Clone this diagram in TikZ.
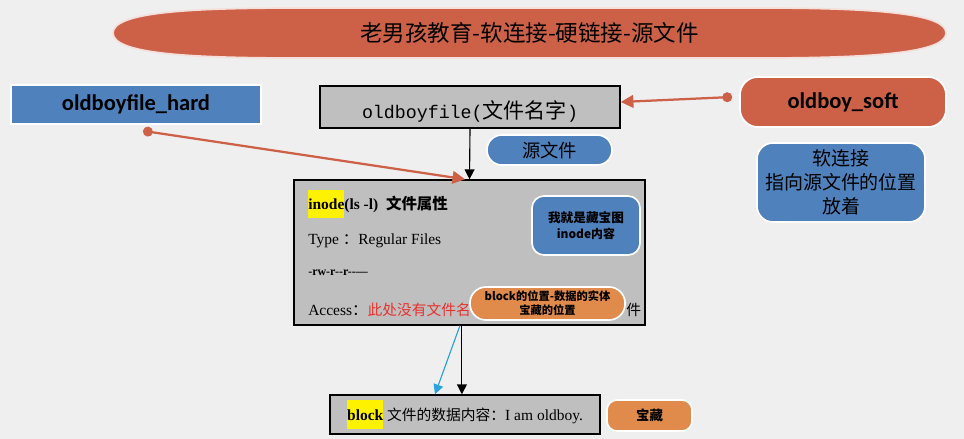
\documentclass[tikz,border=0pt]{standalone}
\usepackage{fontspec}
\setmainfont{Liberation Serif}
\setmonofont{Liberation Mono}
\newfontfamily\cjk{Noto Sans CJK SC}
\newfontfamily\lbl{Carlito}
\usetikzlibrary{arrows.meta}

\definecolor{bannerred}{HTML}{CD6148}
\definecolor{steel}{HTML}{4F81BD}
\definecolor{boxgray}{HTML}{BFBFBF}
\definecolor{tanorange}{HTML}{E08A4B}
\definecolor{pagegray}{HTML}{EFEFEF}
\definecolor{linkblue}{HTML}{2AA3DC}
\definecolor{accessred}{HTML}{E8312F}

\newcommand{\hlyellow}[1]{{\setlength{\fboxsep}{0pt}\colorbox{yellow}{\rule[-6pt]{0pt}{20pt}#1}}}

\tikzset{
 graybox/.style={draw=black, line width=1pt, fill=boxgray, inner sep=0pt},
 pill/.style={rounded corners=8pt, draw=white, line width=1.2pt, fill=#1, inner sep=0pt, align=center},
 linkarrow/.style={draw=bannerred, line width=1.6pt, {Circle[length=7pt]}-{Triangle[length=9pt,width=9pt]}},
 dataarrow/.style={-{Triangle[length=7pt,width=7pt]}, line width=0.8pt},
}

\begin{document}
\begin{tikzpicture}[x=0.025cm,y=-0.025cm]
\fill[pagegray] (0,0) rectangle (964,439);
\useasboundingbox (0,0) rectangle (964,439);

% banner
\filldraw[fill=bannerred, draw=white!80!bannerred, line width=1.2pt]
  (113,33) .. controls (113,12) and (190,8) .. (300,8) -- (760,8)
  .. controls (880,8) and (946,14) .. (946,33)
  .. controls (946,52) and (880,58) .. (760,58) -- (300,58)
  .. controls (190,58) and (113,54) .. (113,33) -- cycle;
\node[font=\cjk\fontsize{16}{18}\selectfont] (title) at (529.5,33) {老男孩教育-软连接-硬链接-源文件};

% links
\node[pill=steel, rounded corners=0pt, minimum width=6.25cm, minimum height=0.975cm, font=\lbl\bfseries\fontsize{16}{18}\selectfont] (hard) at (136,104.5) {oldboyfile\_hard};
\node[graybox, minimum width=7.5cm, minimum height=1.05cm] (file) at (470,107) {};
\node[inner sep=0pt] (filename) at (470,111) {\fontsize{13}{16}\selectfont\ttfamily oldboyfile({\cjk\fontsize{15}{16}\selectfont 文件名字})};
\node[pill=steel, rounded corners=0.37cm, minimum width=3.125cm, minimum height=0.75cm, font=\cjk\fontsize{13}{16}\selectfont] (src) at (549.5,150) {源文件};
\node[pill=bannerred, rounded corners=0.45cm, minimum width=5.15cm, minimum height=1.25cm, font=\lbl\bfseries\fontsize{16}{18}\selectfont] (soft) at (843,102) {oldboy\_soft};
\node[pill=steel, rounded corners=0.4cm, minimum width=4.2cm, minimum height=1.975cm, font=\cjk\fontsize{13.5}{17}\selectfont] (softnote) at (841,182.5) {软连接\\指向源文件的位置\\放着};

% inode
\node[graybox, minimum width=8.775cm, minimum height=3.625cm] (inode) at (469.5,252.5) {};
\node[anchor=west, inner sep=0pt] (attr) at (308,204) {\fontsize{11}{13}\selectfont\hlyellow{\bfseries inode}{\bfseries(ls -l)}\ \ {\cjk\bfseries 文件属性}};
\node[anchor=west, inner sep=0pt] (type) at (308,241) {\fontsize{11}{13}\selectfont Type {\cjk ：}Regular Files};
\node[anchor=west, inner sep=0pt] (perm) at (308,273) {\fontsize{8.5}{10}\selectfont\bfseries -rw-r-{}-r-{}-—};
\node[anchor=west, inner sep=0pt] (tail) at (626,310) {\cjk\fontsize{10.5}{12}\selectfont 件};
\node[anchor=west, inner sep=0pt] (access) at (308,310) {\fontsize{11}{13}\selectfont Access{\cjk ：}{\cjk\color{accessred}\fontsize{10.5}{12}\selectfont 此处没有文件名}};
\node[pill=steel, rounded corners=0.3cm, minimum width=2.7cm, minimum height=1.475cm, font=\cjk\bfseries\fontsize{9}{11}\selectfont] (map) at (586,225.5) {我就是藏宝图\\{\fontsize{8.5}{10}\selectfont inode内容}};
\node[pill=tanorange, rounded corners=0.4cm, minimum width=3.875cm, minimum height=0.825cm, font=\cjk\bfseries\fontsize{8}{10}\selectfont] (loc) at (547.5,303.5) {block的位置-数据的实体\\宝藏的位置};

% block
\node[graybox, minimum width=6.75cm, minimum height=0.975cm] (block) at (465,414.5) {\fontsize{11}{13}\selectfont\hlyellow{\bfseries block}\ {\cjk\fontsize{10.5}{12}\selectfont 文件的数据内容：}I am oldboy.};
\node[pill=tanorange, rounded corners=0.25cm, minimum width=2.125cm, minimum height=0.775cm, font=\cjk\bfseries\fontsize{9.5}{11}\selectfont] (treasure) at (649.5,415.5) {宝藏};

% arrows
\draw[dataarrow] (file.south) -- (inode.north);
\draw[linkarrow] ([xshift=0.175cm,yshift=-0.15cm]hard.south) -- ([xshift=-0.11cm]inode.north);
\draw[linkarrow] ([xshift=-0.175cm,yshift=0.125cm]soft.west) -- ([yshift=0.125cm]file.east);
\draw[dataarrow] ([xshift=-0.19cm]inode.south) -- ([xshift=-0.19cm]inode.south |- block.north);
\draw[dataarrow, draw=linkblue, fill=linkblue] ([xshift=-0.24cm]inode.south) -- ([xshift=-0.75cm]block.north);
\end{tikzpicture}
\end{document}
